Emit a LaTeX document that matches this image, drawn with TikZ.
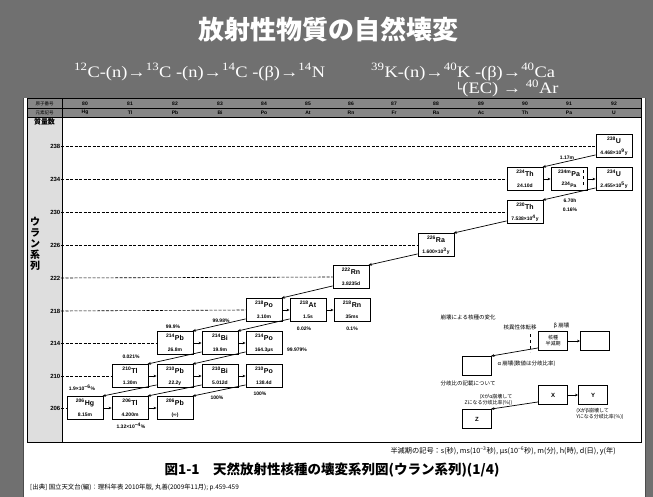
\documentclass[tikz,border=0pt]{standalone}
\usepackage{fontspec}
\setmainfont{Liberation Serif}
\setsansfont{Liberation Sans}
\newfontfamily\jp{Noto Sans CJK JP}
\newfontfamily\dv{DejaVu Sans}
\newfontfamily\eqf[FakeStretch=1.15]{Liberation Serif}
\usetikzlibrary{arrows.meta}
\definecolor{bandgray}{RGB}{112,112,112}
\definecolor{headgray}{RGB}{135,135,135}
\definecolor{colgray}{RGB}{222,222,222}
\newcommand{\nk}[3]{{\fontsize{7}{8}\selectfont\bfseries\textsuperscript{#1}#2}\\[-1pt]{\fontsize{5}{6}\selectfont\bfseries #3}}
\tikzset{
  nbox/.style={draw, line width=0.9pt, fill=white, minimum width=36pt, minimum height=23pt, inner sep=0pt, align=center, font=\sffamily},
  lbox/.style={draw, line width=0.9pt, fill=white, minimum width=29pt, minimum height=19pt, inner sep=0pt, align=center, font=\jp\fontsize{5}{6}\selectfont},
  rowline/.style={dashed, line width=0.6pt, dash pattern=on 3pt off 1.5pt},
  beta/.style={line width=0.6pt, -{Stealth[length=3pt,width=2.6pt]}},
  alpha/.style={line width=0.7pt, -{Stealth[length=3.5pt,width=2.8pt]}},
  lab/.style={font=\sffamily\bfseries\fontsize{5}{6}\selectfont, inner sep=0.5pt},
  jlab/.style={font=\jp\fontsize{5.5}{6.5}\selectfont, inner sep=0.5pt},
  mass/.style={font=\sffamily\bfseries\fontsize{6}{7}\selectfont, inner sep=0.5pt, anchor=east},
  hdr/.style={font=\sffamily\bfseries\fontsize{5}{6}\selectfont, inner sep=0pt},
  hdrj/.style={font=\jp\fontsize{4.5}{5}\selectfont, inner sep=0pt},
  eq/.style={font=\eqf\fontsize{16}{18}\selectfont, text=white, anchor=west, inner sep=0pt}
}
\begin{document}
\begin{tikzpicture}[x=1pt,y=-1pt]
\useasboundingbox (0,0) rectangle (653,497);
% background
\fill[white] (0,0) rectangle (653,497);
\fill[bandgray] (0,0) rectangle (653,98);
\fill[bandgray] (0,0) rectangle (23,497);
\fill[bandgray] (645,0) rectangle (653,497);
\draw[line width=0.8pt, black!70] (23,98) -- (23,497);
\draw[line width=0.8pt, black!70] (645,98) -- (645,497);

% title
\node[font=\jp\bfseries\fontsize{26}{28}\selectfont, text=white] (title) at (328,30) {放射性物質の自然壊変};
\node[eq] (eqC) at (74,72)
  {\textsuperscript{12}C-(n)→\textsuperscript{13}C -(n)→\textsuperscript{14}C -(β)→\textsuperscript{14}N};
\node[eq] (eqK) at (371,72)
  {\textsuperscript{39}K-(n)→\textsuperscript{40}K -(β)→\textsuperscript{40}Ca};
\node[eq] (eqEC) at (455,88.5)
  {{\dv\fontsize{12}{14}\selectfont └}(EC) → \textsuperscript{40}Ar};

% diagram frame
\fill[white] (27,99) rectangle (641,442);
\fill[headgray] (27,99) rectangle (641,117);
\fill[colgray] (27,117) rectangle (62,442);
\draw[line width=1pt] (27,99) rectangle (641,442);
\draw[line width=0.6pt] (27,108) -- (641,108);
\draw[line width=0.6pt] (27,117) -- (641,117);
\draw[line width=1pt] (62,99) -- (62,442);

% header
\node[hdrj] (h1) at (44.5,103.5) {原子番号};
\node[hdrj] (h2) at (44.5,112.5) {元素記号};
\foreach \z/\s/\x in {80/Hg/85,81/Tl/130,82/Pb/175,83/Bi/220,84/Po/264,85/At/308,86/Rn/351,87/Fr/394,88/Ra/436,89/Ac/481,90/Th/525,91/Pa/569,92/U/614}{
  \node[hdr] (z\z) at (\x,103.6) {\z};
  \node[hdr] (s\z) at (\x,112.8) {\s};
}
\node[font=\jp\bfseries\fontsize{7}{8}\selectfont, inner sep=0pt] (mhead) at (44.5,122) {質量数};
\node[font=\jp\bfseries\fontsize{10}{11}\selectfont, align=center, inner sep=0pt] (series) at (35,244)
  {ウ\\[0pt]ラ\\[0pt]ン\\[0pt]系\\[0pt]列};

% mass labels
\foreach \m/\y in {238/146,234/179,230/212,226/245,222/278,218/311,214/343,210/376,206/408}{
  \node[mass] (m\m) at (61,\y) {\m};
}

% nuclide boxes
\node[nbox] (U238)  at (614,146) {\nk{238}{U}{4.468×10\textsuperscript{9}y}};
\node[nbox] (Th234) at (525,179) {\nk{234}{Th}{24.10d}};
\node[nbox] (Pa234) at (569,179) {{\fontsize{7}{8}\selectfont\bfseries\textsuperscript{234m}Pa}\\[-1pt]{\fontsize{5}{6}\selectfont\bfseries\textsuperscript{234}Pa}};
\node[nbox] (U234)  at (614,179) {\nk{234}{U}{2.455×10\textsuperscript{5}y}};
\node[nbox] (Th230) at (525,212) {\nk{230}{Th}{7.538×10\textsuperscript{4}y}};
\node[nbox] (Ra226) at (436,245) {\nk{226}{Ra}{1.600×10\textsuperscript{3}y}};
\node[nbox] (Rn222) at (351,277) {\nk{222}{Rn}{3.8235d}};
\node[nbox] (Po218) at (264,310) {\nk{218}{Po}{3.10m}};
\node[nbox] (At218) at (308,310) {\nk{218}{At}{1.5s}};
\node[nbox] (Rn218) at (352,310) {\nk{218}{Rn}{35ms}};
\node[nbox] (Pb214) at (175,343) {\nk{214}{Pb}{26.8m}};
\node[nbox] (Bi214) at (220,343) {\nk{214}{Bi}{19.9m}};
\node[nbox] (Po214) at (264,343) {\nk{214}{Po}{164.3μs}};
\node[nbox] (Tl210) at (130,376) {\nk{210}{Tl}{1.30m}};
\node[nbox] (Pb210) at (175,376) {\nk{210}{Pb}{22.2y}};
\node[nbox] (Bi210) at (220,376) {\nk{210}{Bi}{5.012d}};
\node[nbox] (Po210) at (264,376) {\nk{210}{Po}{138.4d}};
\node[nbox] (Hg206) at (85,408)  {\nk{206}{Hg}{8.15m}};
\node[nbox] (Tl206) at (130,408) {\nk{206}{Tl}{4.200m}};
\node[nbox] (Pb206) at (175,408) {\nk{206}{Pb}{(∞)}};
\draw[dashed, line width=0.5pt] ([xshift=-4pt,yshift=-3pt]Pa234.north east) -- ([xshift=-4pt,yshift=3pt]Pa234.south east);

% row dashed lines
\draw[rowline] (m238.east) -- (U238.west);
\draw[rowline] (m234.east) -- (Th234.west);
\draw[rowline] (m230.east) -- (Th230.west);
\draw[rowline] (m226.east) -- (Ra226.west);
\draw[rowline] (m222.east) -- (Rn222.west);
\draw[rowline] (m218.east) -- (Po218.west);
\draw[rowline] (m214.east) -- (Pb214.west);
\draw[rowline] (m210.east) -- (Tl210.west);
\draw[rowline] (m206.east) -- (Hg206.west);

% beta decays
\draw[beta] (Th234) -- (Pa234);
\draw[beta] (Pa234) -- (U234);
\draw[beta] (Po218) -- (At218);
\draw[beta] (At218) -- (Rn218);
\draw[beta] (Pb214) -- (Bi214);
\draw[beta] (Bi214) -- (Po214);
\draw[beta] (Tl210) -- (Pb210);
\draw[beta] (Pb210) -- (Bi210);
\draw[beta] (Bi210) -- (Po210);
\draw[beta] (Hg206) -- (Tl206);
\draw[beta] (Tl206) -- (Pb206);

% alpha decays
\draw[alpha] ([yshift=3pt]U238.south west) -- ([xshift=-1pt]Th234.north east);
\draw[alpha] ([yshift=3pt]U234.south west) -- ([xshift=-1pt]Th230.north east);
\draw[alpha] ([yshift=3pt]Th230.south west) -- ([xshift=-1pt]Ra226.north east);
\draw[alpha] ([yshift=3pt]Ra226.south west) -- ([xshift=-1pt]Rn222.north east);
\draw[alpha] ([yshift=3pt]Rn222.south west) -- ([xshift=-1pt]Po218.north east);
\draw[alpha] ([yshift=3pt]Po218.south west) -- ([xshift=-1pt]Pb214.north east);
\draw[alpha] ([yshift=3pt]At218.south west) -- ([xshift=-1pt]Bi214.north east);
\draw[alpha] ([yshift=3pt]Bi214.south west) -- ([xshift=-1pt]Tl210.north east);
\draw[alpha] ([yshift=3pt]Po214.south west) -- ([xshift=-1pt]Pb210.north east);
\draw[alpha] ([yshift=3pt]Pb210.south west) -- ([xshift=-1pt]Hg206.north east);
\draw[alpha] ([yshift=3pt]Bi210.south west) -- ([xshift=-1pt]Tl206.north east);
\draw[alpha] ([yshift=3pt]Po210.south west) -- ([xshift=-1pt]Pb206.north east);

% branch labels
\node[lab] (l1) at (567,158) {1.17m};
\node[lab] (l2) at (570,201) {6.70h};
\node[lab] (l3) at (570,210) {0.16\%};
\node[lab] (l4) at (221,321) {99.98\%};
\node[lab] (l5) at (173,327) {99.9\%};
\node[lab] (l6) at (304,329) {0.02\%};
\node[lab] (l7) at (352,329) {0.1\%};
\node[lab] (l8) at (131,357) {0.021\%};
\node[lab] (l9) at (297,350) {99.979\%};
\node[lab] (l10) at (82,388) {1.9×10\textsuperscript{−6}\%};
\node[lab] (l11) at (131,426) {1.32×10\textsuperscript{−4}\%};
\node[lab] (l12) at (217,398) {100\%};
\node[lab] (l13) at (260,394) {100\%};

% legend
\node[jlab, anchor=west] (lg1) at (440,317) {崩壊による核種の変化};
\node[jlab, anchor=west] (lg2) at (503,327) {核異性体転移};
\node[jlab, anchor=west] (lg3) at (553,326) {β 崩壊};
\node[lbox] (L1) at (553,341) {核種\\半減期};
\node[lbox] (L2) at (595,341) {};
\node[lbox] (L3) at (477,366) {};
\draw[beta] (L1) -- (L2);
\draw[dashed, line width=0.5pt] (530,334) -- (530,352);
\draw[alpha] ([yshift=3pt]L1.south west) -- ([xshift=-1pt]L3.north east);
\node[jlab, anchor=west] (lg4) at (497,364) {α 崩壊(数値は分岐比率)};
\node[jlab, anchor=west] (lg5) at (440,383) {分岐比の記載について};
\node[lbox, font=\sffamily\bfseries\fontsize{6}{7}\selectfont] (LX) at (553,395) {X};
\node[lbox, font=\sffamily\bfseries\fontsize{6}{7}\selectfont] (LY) at (593,395) {Y};
\node[lbox, font=\sffamily\bfseries\fontsize{6}{7}\selectfont] (LZ) at (477,419) {Z};
\draw[beta] (LX) -- (LY);
\draw[alpha] ([yshift=3pt]LX.south west) -- ([xshift=-1pt]LZ.north east);
\node[jlab, anchor=east, align=right, font=\jp\fontsize{5}{6}\selectfont] (lg6) at (513,400) {(Xがα崩壊して\\Zになる分岐比率(\%))};
\node[jlab, anchor=north, align=left, font=\jp\fontsize{5}{6}\selectfont] (lg7) at (600,408) {(Xがβ崩壊して\\Yになる分岐比率(\%))};

% footer
\node[font=\jp\fontsize{7.2}{8}\selectfont, anchor=east, inner sep=0pt] (foot) at (616,451)
  {半減期の記号：s(秒), ms(10\textsuperscript{−3}秒), μs(10\textsuperscript{−6}秒), m(分), h(時), d(日), y(年)};
\node[font=\jp\bfseries\fontsize{13.5}{15}\selectfont, inner sep=0pt] (cap) at (332,470)
  {図1-1\quad 天然放射性核種の壊変系列図(ウラン系列)(1/4)};
\node[font=\jp\fontsize{6.4}{7}\selectfont, anchor=west, inner sep=0pt] (src) at (30,488)
  {[出典] 国立天文台(編)：理科年表 2010年版, 丸善(2009年11月); p.459-459};
\end{tikzpicture}
\end{document}
